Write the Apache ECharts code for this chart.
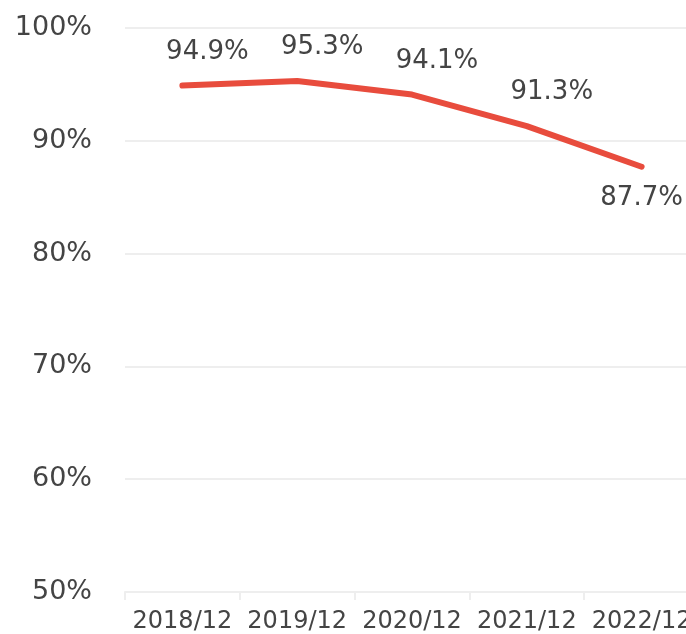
<!DOCTYPE html>
<html>
<head>
<meta charset="utf-8">
<script src="https://cdn.jsdelivr.net/npm/echarts@6/dist/echarts.min.js"></script>
<style>
  html, body { margin: 0; padding: 0; background: #ffffff; }
  #chart { width: 686px; height: 634px; }
</style>
</head>
<body>
<div id="chart"></div>
<script>
// Year-end ratio by period
const categories = ['2018/12', '2019/12', '2020/12', '2021/12', '2022/12'];
const ratioValues = [94.9, 95.3, 94.1, 91.3, 87.7];
const yTicks = [50, 60, 70, 80, 90, 100];

const textColor = '#444444';
const fontFamily = '"DejaVu Sans", Verdana, sans-serif';

const chart = echarts.init(document.getElementById('chart'), null, { renderer: 'canvas' });

// Last value sits below the line; the others sit above it, nudged right.
const seriesData = ratioValues.map((v, i) => {
  const last = i === ratioValues.length - 1;
  return {
    value: v,
    label: last
      ? { position: 'bottom', distance: 18, offset: [0, 0] }
      : { position: 'top', distance: 20, offset: [25, 0] }
  };
});

chart.setOption({
  animation: false,
  backgroundColor: '#ffffff',
  // plot area runs a little past the right edge of the canvas
  grid: { left: 125, right: -13, top: 28, bottom: 42, containLabel: false, outerBoundsMode: 'none' },
  xAxis: {
    type: 'category',
    data: categories,
    boundaryGap: true,
    axisLine: { show: true, lineStyle: { color: '#eeeeee', width: 2 } },
    axisTick: { show: true, length: 8, lineStyle: { color: '#eeeeee', width: 2 } },
    axisLabel: { color: textColor, fontSize: 24, fontFamily: fontFamily, margin: 18, interval: 0, hideOverlap: false },
    splitLine: { show: false }
  },
  yAxis: {
    type: 'value',
    min: yTicks[0],
    max: yTicks[yTicks.length - 1],
    interval: yTicks[1] - yTicks[0],
    axisLine: { show: false },
    axisTick: { show: false },
    axisLabel: { color: textColor, fontSize: 27, fontFamily: fontFamily, margin: 33, formatter: '{value}%' },
    splitLine: { show: true, lineStyle: { color: '#eeeeee', width: 2 } }
  },
  series: [{
    type: 'line',
    data: seriesData,
    symbol: 'circle',
    symbolSize: 1,
    itemStyle: { color: '#e84c3d' },
    lineStyle: { color: '#e84c3d', width: 6, cap: 'round', join: 'round' },
    label: {
      show: true,
      color: textColor,
      fontSize: 26,
      fontFamily: fontFamily,
      formatter: p => p.value.toFixed(1) + '%'
    }
  }]
});
</script>
</body>
</html>
